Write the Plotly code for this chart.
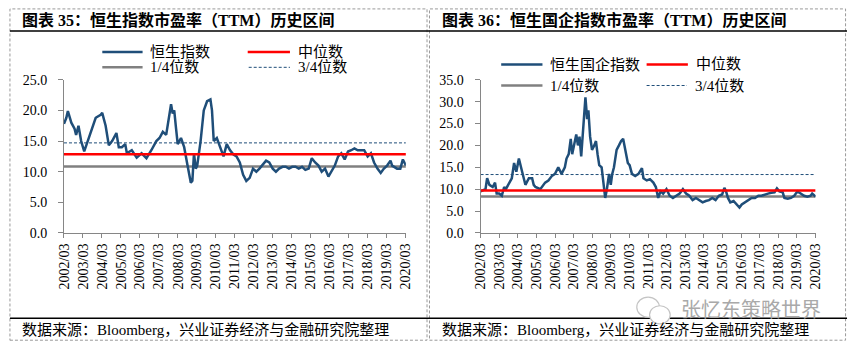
import plotly.graph_objects as go

# ---------------- data ----------------
hsi_dates = ["2002-03-01","2002-04-15","2002-05-15","2002-07-20","2002-09-20","2002-10-20","2002-12-05",
    "2003-01-25","2003-03-25","2003-05-28","2003-09-01","2003-11-01","2004-02-05","2004-03-05","2004-05-10",
    "2004-06-10","2004-07-10","2004-09-12","2004-12-03","2005-01-18","2005-03-18","2005-05-22","2005-06-22",
    "2005-09-25","2005-12-28","2006-04-01","2006-07-04","2006-10-06","2007-01-10","2007-03-12","2007-05-15",
    "2007-07-18","2007-08-18","2007-10-20","2007-11-20","2007-12-20","2008-01-25","2008-02-25","2008-04-28",
    "2008-06-28","2008-09-01","2008-11-03","2008-12-03","2009-01-03","2009-02-06","2009-03-06","2009-05-10",
    "2009-07-10","2009-09-12","2009-11-15","2009-12-15","2010-01-18","2010-03-18","2010-05-22","2010-07-25",
    "2010-09-25","2010-11-28","2011-02-01","2011-04-01","2011-06-03","2011-08-06","2011-10-06","2011-12-10",
    "2012-02-12","2012-04-15","2012-06-15","2012-08-18","2012-10-20","2012-12-20","2013-02-25","2013-04-28",
    "2013-06-28","2013-09-01","2013-11-03","2014-01-03","2014-03-06","2014-05-10","2014-07-10","2014-09-12",
    "2014-11-15","2015-01-18","2015-03-18","2015-05-22","2015-07-25","2015-09-25","2015-11-28","2016-02-01",
    "2016-04-01","2016-06-03","2016-08-06","2016-10-06","2016-12-10","2017-02-12","2017-04-15","2017-06-15",
    "2017-08-18","2017-10-20","2017-12-20","2018-02-25","2018-04-28","2018-06-28","2018-09-01","2018-11-03",
    "2019-01-03","2019-03-06","2019-05-10","2019-06-10","2019-07-10","2019-09-12","2019-11-15","2020-01-03",
    "2020-02-01","2020-03-01"]
hsi_pe = [17.8,18.8,19.9,18.0,17.0,16.0,17.5,
    15.0,13.3,15.0,17.5,18.8,19.3,19.6,17.5,
    15.5,14.3,15.0,16.3,14.0,14.0,14.5,13.0,
    13.5,12.3,13.0,12.2,13.5,15.0,15.5,16.5,
    16.0,17.5,21.0,19.5,20.0,17.0,14.5,15.5,
    14.0,11.0,8.2,8.5,13.0,10.5,11.0,15.0,
    20.0,21.5,21.8,20.0,15.0,15.5,14.0,12.5,
    14.5,13.5,12.8,12.5,11.5,9.5,8.5,9.0,
    10.5,10.0,10.5,11.2,11.8,11.5,10.5,10.0,
    10.5,10.8,10.8,10.5,10.8,10.8,10.5,10.8,
    10.3,10.5,12.2,11.5,11.0,10.0,10.5,9.2,
    10.0,11.0,12.5,13.0,12.0,13.3,13.5,13.8,
    13.5,13.5,13.5,12.5,13.0,11.5,10.5,9.8,
    10.5,11.0,11.8,11.0,10.8,10.5,10.5,12.0,
    11.5,11.0]
hsi_q1, hsi_median, hsi_q3 = 10.85, 12.85, 14.7

hscei_dates = ["2002-03-01","2002-04-15","2002-06-06","2002-07-08","2002-08-22","2002-10-25","2002-12-10",
    "2003-01-11","2003-03-02","2003-04-22","2003-06-07","2003-07-10","2003-09-13","2003-11-04","2003-12-19",
    "2004-02-01","2004-03-22","2004-04-25","2004-05-25","2004-07-28","2004-10-04","2004-12-07","2005-01-07",
    "2005-02-10","2005-05-16","2005-08-19","2005-10-22","2005-12-28","2006-03-01","2006-05-04","2006-07-07",
    "2006-09-10","2006-10-13","2006-11-25","2007-01-04","2007-02-01","2007-03-07","2007-04-22","2007-05-25",
    "2007-06-25","2007-07-28","2007-09-10","2007-10-19","2007-11-22","2007-12-16","2008-01-19","2008-02-25",
    "2008-04-10","2008-05-13","2008-06-13","2008-07-16","2008-09-01","2008-10-07","2008-11-10","2008-12-13",
    "2009-01-25","2009-02-27","2009-03-28","2009-05-01","2009-06-22","2009-08-07","2009-09-19","2009-10-28",
    "2009-12-13","2010-01-28","2010-03-04","2010-04-19","2010-06-22","2010-08-25","2010-11-01","2010-12-01",
    "2011-02-04","2011-04-07","2011-06-13","2011-08-01","2011-09-16","2011-11-01","2011-12-22","2012-02-25",
    "2012-04-28","2012-07-01","2012-09-04","2012-11-10","2013-01-13","2013-03-16","2013-05-19","2013-07-22",
    "2013-09-25","2013-11-28","2014-02-04","2014-04-07","2014-06-10","2014-08-13","2014-10-16","2014-12-19",
    "2015-02-22","2015-04-07","2015-05-10","2015-06-16","2015-08-01","2015-10-04","2015-12-07","2016-01-28",
    "2016-03-13","2016-05-16","2016-07-19","2016-09-22","2016-11-28","2017-02-01","2017-04-04","2017-06-07",
    "2017-08-10","2017-10-13","2017-12-16","2018-02-01","2018-03-22","2018-05-25","2018-06-28","2018-09-01",
    "2018-11-04","2019-01-07","2019-03-10","2019-05-13","2019-07-19","2019-09-22","2019-11-25","2019-12-25",
    "2020-03-01"]
hscei_pe = [9.5,9.8,10.0,12.5,11.0,10.5,11.5,
    9.0,9.0,8.5,10.5,10.0,11.5,12.5,16.0,
    14.0,17.0,15.0,14.0,11.0,12.5,12.5,11.0,
    10.5,10.0,11.5,12.0,13.0,13.5,15.0,13.5,
    15.0,17.0,18.0,21.5,18.0,20.0,22.5,20.0,
    22.0,17.5,24.0,31.0,26.0,28.0,22.0,19.0,
    20.0,21.0,18.0,15.5,15.0,11.0,8.0,10.0,
    13.5,11.0,13.5,15.0,19.0,20.0,21.0,21.5,
    19.0,16.0,15.5,13.5,13.0,13.5,14.8,12.5,
    12.0,12.3,11.5,10.5,8.0,9.5,9.0,10.0,
    8.5,8.0,8.5,9.0,10.0,9.0,8.5,7.5,
    8.0,7.5,7.0,7.3,7.5,8.0,7.5,8.5,
    8.8,10.3,9.5,8.0,7.0,7.3,6.5,5.8,
    6.5,7.0,7.5,8.0,8.0,8.5,8.5,8.8,
    9.0,9.2,9.3,10.2,9.5,9.3,8.0,7.8,
    8.0,8.5,9.5,9.0,8.5,8.3,8.5,9.0,
    8.3]
hscei_q1, hscei_median, hscei_q3 = 8.35, 9.7, 13.35

tick_dates = [f"{y}-03-01" for y in range(2002, 2021)]
tick_labels = [f"{y}/03" for y in range(2002, 2021)]
x_start, x_end = "2002-03-01", "2020-03-01"

left_title = "图表 35：恒生指数市盈率（TTM）历史区间"
right_title = "图表 36：恒生国企指数市盈率（TTM）历史区间"
source = "数据来源：Bloomberg，兴业证券经济与金融研究院整理"
left_names = ["恒生指数", "中位数", "1/4位数", "3/4位数"]
right_names = ["恒生国企指数", "中位数", "1/4位数", "3/4位数"]
watermark = "张忆东策略世界"

# ---------------- figure ----------------
W, H = 857, 353
NAVY = "#1F4E79"
RED = "#FF0000"
GREY = "#808080"
DASH = "#1F4E79"
FONT = "Liberation Serif, 'Noto Sans CJK SC', serif"

def px(x):
    return x / W

def py(y):
    return 1 - y / H

fig = go.Figure()

def add_panel(dates, vals, q1, med, q3, xa, ya, names):
    fig.add_trace(go.Scatter(x=[x_start, x_end], y=[q1, q1], mode="lines",
                             line=dict(color=GREY, width=2.5), xaxis=xa, yaxis=ya, name=names[2]))
    fig.add_trace(go.Scatter(x=[x_start, x_end], y=[q3, q3], mode="lines",
                             line=dict(color=DASH, width=1, dash="3px,2px"), xaxis=xa, yaxis=ya, name=names[3]))
    fig.add_trace(go.Scatter(x=dates, y=vals, mode="lines",
                             line=dict(color=NAVY, width=2.5), xaxis=xa, yaxis=ya, name=names[0]))
    fig.add_trace(go.Scatter(x=[x_start, x_end], y=[med, med], mode="lines",
                             line=dict(color=RED, width=2.5), xaxis=xa, yaxis=ya, name=names[1]))

add_panel(hsi_dates, hsi_pe, hsi_q1, hsi_median, hsi_q3, "x", "y", left_names)
add_panel(hscei_dates, hscei_pe, hscei_q1, hscei_median, hscei_q3, "x2", "y2", right_names)

ydom = [py(236), py(76)]
xaxis_common = dict(type="date", range=[x_start, x_end], tickmode="array", tickvals=tick_dates,
                    ticktext=tick_labels, tickangle=-90, showgrid=False, zeroline=False,
                    showline=True, linecolor="#868686", linewidth=1, ticks="outside", ticklen=4,
                    tickcolor="#868686", tickfont=dict(family=FONT, size=14, color="black"))
yaxis_common = dict(showgrid=False, zeroline=False, showline=True, linecolor="#868686", linewidth=1,
                    ticks="outside", ticklen=5, tickcolor="#868686", tickformat=".1f",
                    tickfont=dict(family=FONT, size=14, color="black"), domain=ydom,
                    ticklabelstandoff=8)

fig.update_layout(
    width=W, height=H, margin=dict(l=0, r=0, t=0, b=0),
    paper_bgcolor="white", plot_bgcolor="rgba(0,0,0,0)", showlegend=False,
    xaxis=dict(domain=[px(58), px(406)], anchor="y", **xaxis_common),
    yaxis=dict(range=[0, 25], dtick=5, anchor="x", **yaxis_common),
    xaxis2=dict(domain=[px(482), px(823)], anchor="y2", **xaxis_common),
    yaxis2=dict(range=[0, 35], dtick=5, anchor="x2", **yaxis_common),
)

shapes = []
annotations = []

# dashed panel borders
for x0, x1 in [(3, 427.5), (430, 853.5)]:
    shapes.append(dict(type="rect", xref="paper", yref="paper", x0=px(x0), x1=px(x1), y0=py(348), y1=py(2),
                       line=dict(color="#9a9a9a", width=1, dash="3px,2px"), fillcolor="rgba(0,0,0,0)"))
# solid rules
for yy in (25, 325):
    shapes.append(dict(type="line", xref="paper", yref="paper", x0=px(3), x1=px(855), y0=py(yy), y1=py(yy),
                       line=dict(color="black", width=1.5)))

# titles and sources
for xx, t in [(13, left_title), (441, right_title)]:
    annotations.append(dict(text="<b>" + t + "</b>", xref="paper", yref="paper", x=px(xx), y=py(14),
                            xanchor="left", yanchor="middle", showarrow=False,
                            font=dict(family=FONT, size=16, color="black")))
for xx in (13, 441):
    annotations.append(dict(text=source, xref="paper", yref="paper", x=px(xx), y=py(337),
                            xanchor="left", yanchor="middle", showarrow=False,
                            font=dict(family=FONT, size=15, color="black")))

# manual legends
def legend_item(x0, x1, ytxt, color, width, dash, label):
    shapes.append(dict(type="line", xref="paper", yref="paper", x0=px(x0), x1=px(x1), y0=py(ytxt), y1=py(ytxt),
                       line=dict(color=color, width=width, dash=dash)))
    annotations.append(dict(text=label, xref="paper", yref="paper", x=px(x1 + 6), y=py(ytxt),
                            xanchor="left", yanchor="middle", showarrow=False,
                            font=dict(family=FONT, size=15, color="black")))

legend_item(97, 138, 47, NAVY, 2.5, "solid", left_names[0])
legend_item(245, 288, 47, RED, 2.5, "solid", left_names[1])
legend_item(97, 138, 63, GREY, 2.5, "solid", left_names[2])
legend_item(246, 288, 63, DASH, 1, "3px,2px", left_names[3])

legend_item(503, 545, 60, NAVY, 2.5, "solid", right_names[0])
legend_item(651, 693, 60, RED, 2.5, "solid", right_names[1])
legend_item(503, 545, 82, GREY, 2.5, "solid", right_names[2])
legend_item(651, 692, 82, DASH, 1, "3px,2px", right_names[3])

# watermark (WeChat-like icon + text)
shapes.append(dict(type="circle", xref="paper", yref="paper", x0=px(641), x1=px(664), y0=py(324), y1=py(303),
                   line=dict(color="#c4c4c4", width=1.2), fillcolor="white"))
shapes.append(dict(type="circle", xref="paper", yref="paper", x0=px(654), x1=px(675), y0=py(331), y1=py(312),
                   line=dict(color="#c4c4c4", width=1.2), fillcolor="white"))
annotations.append(dict(text=watermark, xref="paper", yref="paper", x=px(684), y=py(315),
                        xanchor="left", yanchor="middle", showarrow=False,
                        font=dict(family="'Noto Sans CJK SC', sans-serif", size=20, color="#a9a9a9")))

fig.update_layout(shapes=shapes, annotations=annotations)
fig.write_html("out.html")
